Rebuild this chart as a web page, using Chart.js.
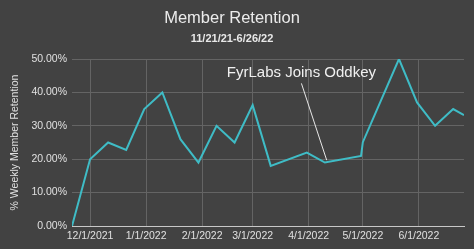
<!doctype html>
<html lang="en">
<head>
    <meta charset="utf-8">
    <title>Member Retention</title>
    <style>
        html, body {
            margin: 0;
            padding: 0;
            background: #424242;
        }
        #chartContainer {
            width: 474px;
            height: 249px;
        }
    </style>
    <script src="https://cdn.jsdelivr.net/npm/chart.js"></script>
</head>
<body>
<div id="chartContainer">
    <canvas id="retentionChart"></canvas>
</div>

<script>
    // data (dates + % weekly retention)
    const dates = ['2021-11-21', '2021-12-01', '2021-12-11', '2021-12-21', '2021-12-31',
        '2022-01-10', '2022-01-20', '2022-01-30', '2022-02-09', '2022-02-19',
        '2022-03-01', '2022-03-11', '2022-03-31', '2022-04-10', '2022-04-30',
        '2022-05-01', '2022-05-21', '2022-05-31', '2022-06-10', '2022-06-20', '2022-06-26'];
    const retention = [0, 20, 25, 22.8, 35, 40, 26, 19, 30, 25, 36.2, 18, 22, 19, 21, 25.1, 50, 37, 30, 35, 33.2];

    const tickDates = ['2021-12-01', '2022-01-01', '2022-02-01', '2022-03-01', '2022-04-01', '2022-05-01', '2022-06-01'];
    const tickLabels = ['12/1/2021', '1/1/2022', '2/1/2022', '3/1/2022', '4/1/2022', '5/1/2022', '6/1/2022'];
    const yTicks = [0, 10, 20, 30, 40, 50];

    const startDate = '2021-11-21';
    const endDate = '2022-06-26';

    // annotation: label position and arrow, in data units
    const noteText = 'FyrLabs Joins Oddkey';
    const noteLabel = {date: '2022-03-28', value: 46};
    const noteFrom = {date: '2022-03-28', value: 42.7};
    const noteTo = {date: '2022-04-11', value: 19.7};

    const FONT = "'Liberation Sans', Arial, sans-serif";

    function dayOf(s) {
        const p = s.split('-').map(Number);
        return Math.round((Date.UTC(p[0], p[1] - 1, p[2]) - Date.UTC(2021, 10, 21)) / 86400000);
    }

    const points = dates.map((d, i) => ({x: dayOf(d), y: retention[i]}));
    const tickDays = tickDates.map(dayOf);

    const annotationPlugin = {
        id: 'note',
        afterDatasetsDraw(chart) {
            const ctx = chart.ctx;
            const xs = chart.scales.x, ys = chart.scales.y;
            ctx.save();
            ctx.strokeStyle = '#e8e8e8';
            ctx.lineWidth = 1;
            ctx.beginPath();
            ctx.moveTo(xs.getPixelForValue(dayOf(noteFrom.date)), ys.getPixelForValue(noteFrom.value));
            ctx.lineTo(xs.getPixelForValue(dayOf(noteTo.date)), ys.getPixelForValue(noteTo.value));
            ctx.stroke();
            ctx.fillStyle = '#f0f0f0';
            ctx.font = '15px ' + FONT;
            ctx.textAlign = 'center';
            ctx.textBaseline = 'middle';
            ctx.fillText(noteText, xs.getPixelForValue(dayOf(noteLabel.date)), ys.getPixelForValue(noteLabel.value));
            ctx.restore();
        }
    };

    const ctx = document.getElementById('retentionChart').getContext('2d');
    new Chart(ctx, {
        type: 'line',
        data: {
            datasets: [{
                data: points,
                borderColor: '#3fbcc6',
                borderWidth: 2,
                pointRadius: 0,
                tension: 0,
                fill: false
            }]
        },
        options: {
            responsive: true,
            maintainAspectRatio: false,
            animation: false,
            layout: {padding: {left: 0, right: 10, top: 0, bottom: 0}},
            plugins: {
                legend: {display: false},
                tooltip: {enabled: false},
                title: {
                    display: true,
                    text: 'Member Retention',
                    color: '#ececec',
                    font: {family: FONT, size: 16.5, weight: 'normal'},
                    padding: {top: 9, bottom: 4}
                },
                subtitle: {
                    display: true,
                    text: '11/21/21-6/26/22',
                    color: '#e8e8e8',
                    font: {family: FONT, size: 11, weight: 'bold'},
                    padding: {top: 0, bottom: 13}
                }
            },
            scales: {
                x: {
                    type: 'linear',
                    min: dayOf(startDate),
                    max: dayOf(endDate),
                    afterBuildTicks: (scale) => {
                        scale.ticks = tickDays.map(v => ({value: v}));
                    },
                    afterFit: (scale) => {
                        scale.height = 23;
                    },
                    ticks: {
                        color: '#e0e0e0',
                        font: {family: FONT, size: 10.5},
                        padding: 4,
                        maxRotation: 0,
                        autoSkip: false,
                        callback: (v) => tickLabels[tickDays.indexOf(v)]
                    },
                    grid: {color: '#646464', drawTicks: false},
                    border: {display: true, color: '#c8c8c8', width: 1}
                },
                y: {
                    min: 0,
                    max: 50,
                    afterBuildTicks: (scale) => {
                        scale.ticks = yTicks.map(v => ({value: v}));
                    },
                    afterFit: (scale) => {
                        scale.width = 72;
                    },
                    ticks: {
                        color: '#e0e0e0',
                        font: {family: FONT, size: 10.5},
                        padding: 5,
                        callback: (v) => v.toFixed(2) + '%'
                    },
                    grid: {color: '#646464', drawTicks: false},
                    border: {display: false},
                    title: {
                        display: true,
                        text: '% Weekly Member Retention',
                        color: '#e0e0e0',
                        font: {family: FONT, size: 10.5},
                        padding: {top: 9, bottom: 0}
                    }
                }
            }
        },
        plugins: [annotationPlugin]
    });
</script>
</body>
</html>
